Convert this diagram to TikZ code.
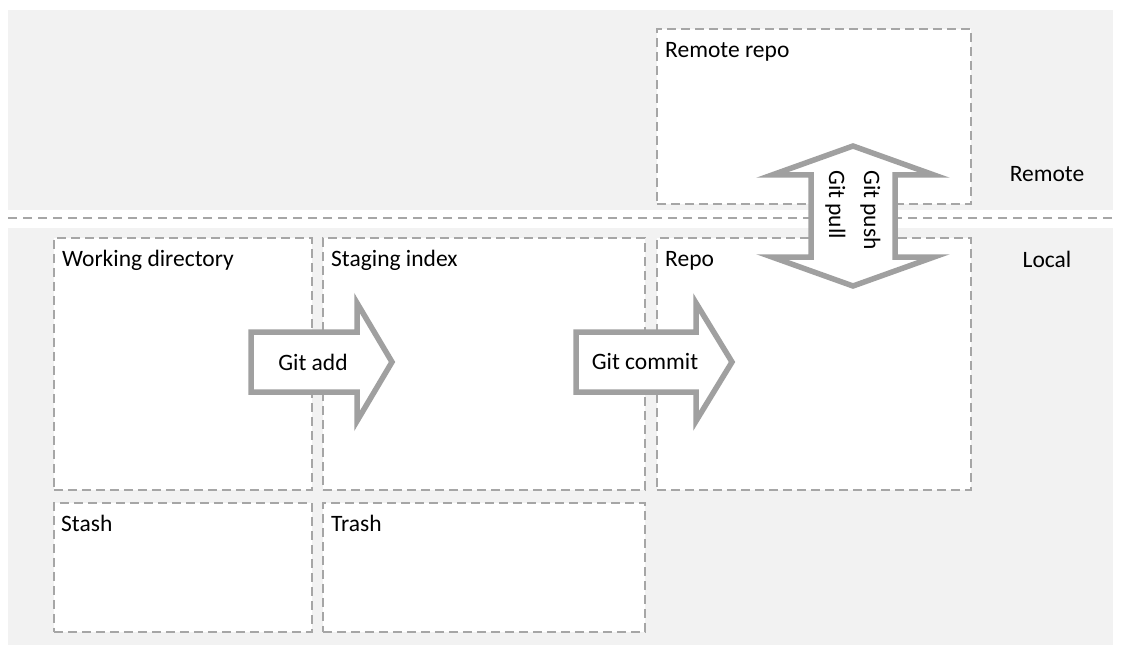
\documentclass[tikz,border=0pt]{standalone}
\usepackage{fontspec}
\setmainfont{Carlito}
\definecolor{bggray}{HTML}{F2F2F2}
\definecolor{dashgray}{HTML}{A6A6A6}
\definecolor{arrowgray}{HTML}{A0A0A0}
\begin{document}
\begin{tikzpicture}[x=1pt,y=-1pt,
  font=\fontsize{23.5}{28}\selectfont,
  zone/.style={fill=bggray,draw=none},
  sepline/.style={draw=dashgray,line width=2.4pt,dash pattern=on 9pt off 6pt},
  area/.style={draw=dashgray,line width=1.6pt,dash pattern=on 9pt off 5pt,fill=white,anchor=north west,inner sep=0},
  boxlabel/.style={anchor=base west,inner sep=0},
  bigarrow/.style={draw=arrowgray,line width=5.5pt,fill=white,miter limit=10},
  arrowlabel/.style={inner sep=0},
  sidelabel/.style={inner sep=0},
  vlabel/.style={rotate=-90,anchor=base west,inner sep=0}]
\useasboundingbox (0,0) rectangle (1123,660);
\fill[zone] (8,10) rectangle (1113,210);
\fill[zone] (8,228) rectangle (1113,645);
\coordinate (sepL) at (8,218);
\coordinate (sepR) at (1113,218);
\draw[sepline] (sepL) -- (sepR);

\node[area,minimum width=314pt,minimum height=175pt] (remote) at (656,28) {};
\node[area,minimum width=258pt,minimum height=252pt] (wd) at (53,237) {};
\node[area,minimum width=322pt,minimum height=252pt] (stage) at (322,237) {};
\node[area,minimum width=314pt,minimum height=252pt] (repo) at (656,237) {};
\node[area,minimum width=258pt,minimum height=129pt] (stash) at (53,502) {};
\node[area,minimum width=322pt,minimum height=129pt] (trash) at (322,502) {};

\node[boxlabel] (remoteL) at ([shift={(9,30)}]remote.north west) {Remote repo};
\node[boxlabel] (wdL) at ([shift={(9,29.5)}]wd.north west) {Working directory};
\node[boxlabel] (stageL) at ([shift={(9,29.5)}]stage.north west) {Staging index};
\node[boxlabel] (repoL) at ([shift={(9,29.5)}]repo.north west) {Repo};
\node[boxlabel] (stashL) at ([shift={(8,29.5)}]stash.north west) {Stash};
\node[boxlabel] (trashL) at ([shift={(9,29.5)}]trash.north west) {Trash};

\node[sidelabel] (remoteSide) at (1047,174) {Remote};
\node[sidelabel] (localSide) at (1047,259) {Local};

% Git add arrow
\draw[bigarrow] (251,332) -- (357,332) -- (357,303) -- (392,362) -- (357,421) -- (357,392) -- (251,392) -- cycle;
\node[arrowlabel] (add) at (313,362) {Git add};
% Git commit arrow
\draw[bigarrow] (576,332) -- (696,332) -- (696,303) -- (732,362) -- (696,421) -- (696,392) -- (576,392) -- cycle;
\node[arrowlabel] (commit) at (645,362) {Git commit};
% push / pull double arrow
\draw[bigarrow] (853,146) -- (934,175) -- (895,175) -- (895,257) -- (934,257) -- (853,286) -- (772,257) -- (811,257) -- (811,175) -- (772,175) -- cycle;
\node[vlabel] (push) at (864,170) {Git push};
\node[vlabel] (pull) at (829,170) {Git pull};
\end{tikzpicture}
\end{document}
